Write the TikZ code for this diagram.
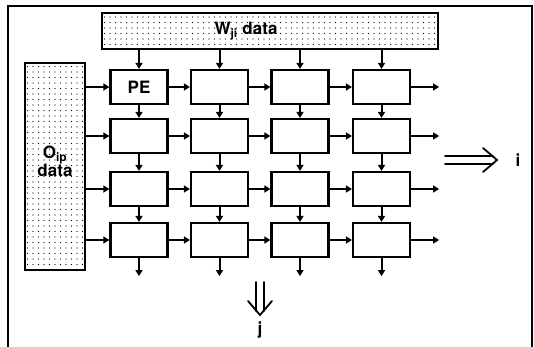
\documentclass[tikz,border=0pt]{standalone}
\usepackage{fontspec}
\setmainfont{TeX Gyre Heros}
\usetikzlibrary{arrows.meta}
\usetikzlibrary{patterns.meta}
\tikzset{
	bigfont/.style={font=\fontsize{17}{19}\selectfont\bfseries},
	pebox/.style={draw, line width=2.2pt, minimum width=57pt, minimum height=34pt, inner sep=0pt, bigfont},
	databox/.style={draw, line width=2.2pt, inner sep=0pt, pattern={Dots[distance=5.5pt, radius=0.65pt]}},
	flow/.style={line width=2pt, -{Triangle[length=6pt, width=7pt]}},
	bigarrow/.style={line width=1.8pt, line cap=round},
}

\begin{document}
\begin{tikzpicture}[x=1pt, y=-1pt]
	\useasboundingbox (0,0) rectangle (534,347);
	\draw[line width=1.5pt] (8,347) -- (8,6) -- (532,6) -- (532,347);
	
	\node[databox, minimum width=336pt, minimum height=36pt] (wdata) at (270,31) {};
	\node[bigfont] (wtext) at (246,31) {W$_{\mathbf{ji}}$ data};
	\node[databox, minimum width=60pt, minimum height=207pt] (odata) at (55,166.5) {};
	\node[bigfont, align=center] (otext) at (55,161) {O$_{\mathbf{ip}}$\\[-1pt]data};
	
	\foreach \r/\y in {1/87, 2/136, 3/189, 4/240}{
		\foreach \c/\x in {1/139, 2/219.5, 3/300, 4/381.5}{
			\node[pebox] (pe-\r-\c) at (\x,\y) {};
		}
		\draw[flow] (odata.east |- pe-\r-1.west) -- (pe-\r-1.west);
		\foreach \c [evaluate=\c as \n using int(\c+1)] in {1,2,3}
			\draw[flow] (pe-\r-\c.east) -- (pe-\r-\n.west);
		\coordinate (out-\r) at ([xshift=28pt]pe-\r-4.east);
		\draw[flow] (pe-\r-4.east) -- (out-\r);
	}
	\node[bigfont] at (pe-1-1) {PE};
	
	\foreach \c in {1,...,4}{
		\draw[flow] (wdata.south -| pe-1-\c.north) -- (pe-1-\c.north);
		\foreach \r [evaluate=\r as \n using int(\r+1)] in {1,2,3}
			\draw[flow] (pe-\r-\c.south) -- (pe-\n-\c.north);
		\coordinate (down-\c) at ([yshift=-18pt]pe-4-\c.south);
		\draw[flow] (pe-4-\c.south) -- (down-\c);
	}
	
	\node[bigfont] (itext) at (518,160) {i};
	\coordinate (itip) at (497,160);
	\draw[bigarrow] (445,156) -- (493,156) (445,164) -- (493,164);
	\draw[bigarrow] ([shift={(-14,-12)}]itip) -- (itip) -- ([shift={(-14,12)}]itip);
	\node[bigfont] (jtext) at (260,330) {j};
	\coordinate (jtip) at (260,315);
	\draw[bigarrow] (256,282) -- (256,311) (264,282) -- (264,311);
	\draw[bigarrow] ([shift={(-12,-14)}]jtip) -- (jtip) -- ([shift={(12,-14)}]jtip);
\end{tikzpicture}
\end{document}
